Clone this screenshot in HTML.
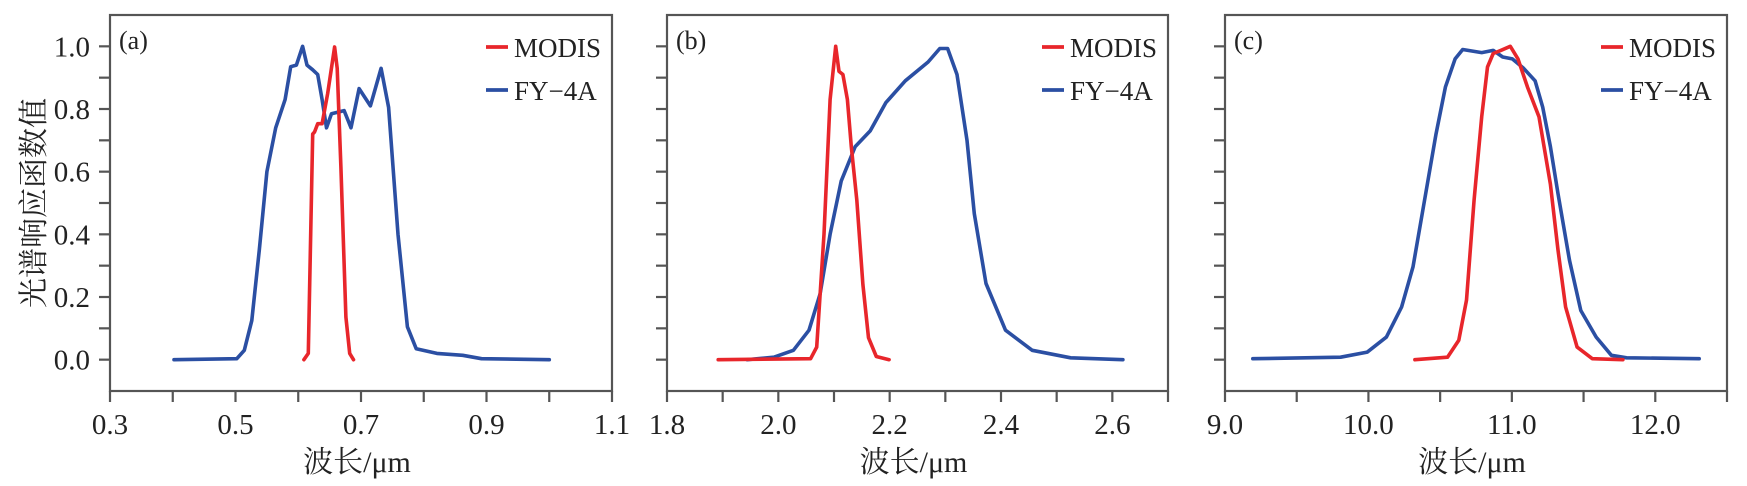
<!DOCTYPE html>
<html><head><meta charset="utf-8">
<style>
html,body{margin:0;padding:0;background:#fff;}
svg{display:block;}
text{font-family:"Liberation Serif","Noto Serif CJK SC",serif;fill:#222;}
</style></head>
<body>
<svg id="chart" width="1747" height="486" viewBox="0 0 1747 486" xmlns="http://www.w3.org/2000/svg">
<text transform="translate(44,203) rotate(-90)" text-anchor="middle" font-size="30" style="font-family:'Noto Serif CJK SC',serif">光谱响应函数值</text>
</svg>
<script>
// Panel (a) data
const aBlueX=[0.402,0.502,0.514,0.526,0.538,0.55,0.564,0.579,0.588,0.597,0.607,0.614,0.623,0.631,0.638,0.645,0.653,0.673,0.684,0.697,0.715,0.732,0.744,0.759,0.774,0.788,0.821,0.862,0.892,1.0];
const aBlueY=[0,0.003,0.03,0.125,0.35,0.6,0.74,0.83,0.935,0.94,1.0,0.94,0.925,0.91,0.83,0.74,0.785,0.795,0.74,0.865,0.81,0.93,0.805,0.4,0.105,0.035,0.02,0.014,0.003,0];
const aRedX=[0.609,0.616,0.623,0.626,0.631,0.638,0.647,0.658,0.662,0.668,0.676,0.682,0.688];
const aRedY=[0,0.02,0.72,0.727,0.753,0.753,0.85,0.998,0.93,0.615,0.136,0.02,0];
// Panel (b) data
const bRedX=[1.892,2.058,2.069,2.082,2.093,2.103,2.109,2.116,2.124,2.131,2.141,2.152,2.162,2.176,2.199];
const bRedY=[0,0.003,0.04,0.4,0.83,1.0,0.92,0.91,0.83,0.68,0.51,0.24,0.07,0.01,0];
const bBlueX=[1.944,1.992,2.027,2.055,2.075,2.093,2.113,2.138,2.165,2.193,2.228,2.269,2.29,2.304,2.321,2.339,2.352,2.373,2.408,2.456,2.525,2.619];
const bBlueY=[0,0.008,0.03,0.094,0.21,0.4,0.57,0.68,0.73,0.82,0.89,0.95,0.993,0.993,0.91,0.7,0.466,0.243,0.094,0.03,0.006,0];
// Panel (c) data
const cBlueX=[9.194,9.806,9.992,10.125,10.231,10.311,10.391,10.471,10.537,10.604,10.657,10.79,10.87,10.936,11.003,11.082,11.162,11.215,11.269,11.322,11.402,11.481,11.588,11.694,11.8,12.306];
const cBlueY=[0.003,0.008,0.024,0.072,0.168,0.296,0.508,0.72,0.87,0.96,0.99,0.98,0.987,0.966,0.96,0.93,0.89,0.806,0.68,0.53,0.317,0.157,0.072,0.014,0.006,0.003];
const cRedX=[10.324,10.551,10.63,10.684,10.737,10.79,10.83,10.87,10.923,10.989,11.043,11.109,11.189,11.269,11.322,11.375,11.455,11.561,11.774];
const cRedY=[0,0.008,0.062,0.19,0.51,0.775,0.934,0.977,0.987,1.0,0.96,0.87,0.775,0.56,0.35,0.168,0.04,0.003,0];
// Tick labels
const aXLabels=["0.3","0.5","0.7","0.9","1.1"];
const bXLabels=["1.8","2.0","2.2","2.4","2.6"];
const cXLabels=["9.0","10.0","11.0","12.0"];
const yLabels=["0.0","0.2","0.4","0.6","0.8","1.0"];
const legendNames=["MODIS","FY\u22124A"];

const NS="http://www.w3.org/2000/svg";
const svg=document.getElementById('chart');
const TOP=15,BOT=391,YMIN=-0.1,YMAX=1.1;
const RED="#e8262b",BLUE="#2b4fa3";
function sy(v){return BOT-(v-YMIN)/(YMAX-YMIN)*(BOT-TOP);}
function mk(tag,attrs,parent){const e=document.createElementNS(NS,tag);for(const k in attrs)e.setAttribute(k,attrs[k]);(parent||svg).appendChild(e);return e;}

const panels=[
 {id:'a',L:110,R:612,xmin:0.3,xmax:1.1,step:0.1,labs:aXLabels,labStep:0.2,series:[[aBlueX,aBlueY,BLUE,'fy4a'],[aRedX,aRedY,RED,'modis']],ylab:true},
 {id:'b',L:667,R:1168,xmin:1.8,xmax:2.7,step:0.1,labs:bXLabels,labStep:0.2,series:[[bBlueX,bBlueY,BLUE,'fy4a'],[bRedX,bRedY,RED,'modis']],ylab:false},
 {id:'c',L:1225,R:1727,xmin:9.0,xmax:12.5,step:0.5,labs:cXLabels,labStep:1.0,series:[[cBlueX,cBlueY,BLUE,'fy4a'],[cRedX,cRedY,RED,'modis']],ylab:false}
];
panels.forEach(p=>{
  const sx=v=>p.L+(v-p.xmin)/(p.xmax-p.xmin)*(p.R-p.L);
  const g=mk('g',{});
  
  
  p.series.forEach(s=>{
    let d='';s[0].forEach((x,i)=>{d+=(i?'L':'M')+sx(x).toFixed(1)+','+sy(s[1][i]).toFixed(1);});
    const path=mk('path',{d:d,fill:'none',stroke:s[2],'stroke-width':3.6,'stroke-linejoin':'round','stroke-linecap':'round'},g);
    
    
  });
  const fr=mk('rect',{x:p.L,y:TOP,width:p.R-p.L,height:BOT-TOP,fill:'none',stroke:'#555','stroke-width':2.2},g);
  
  
  const n=Math.round((p.xmax-p.xmin)/p.step);
  for(let i=0;i<=n;i++){
    const x=sx(p.xmin+i*p.step);
    const t=mk('line',{x1:x,x2:x,y1:BOT,y2:BOT+11,stroke:'#555','stroke-width':2.2},g);
    
    
  }
  p.labs.forEach((lab,i)=>{
    const t=mk('text',{x:sx(p.xmin+i*p.labStep),y:434,'text-anchor':'middle','font-size':29},g);
    t.textContent=lab;
    
    
  });
  for(let i=0;i<=10;i++){
    const y=sy(i*0.1);
    const t=mk('line',{x1:p.L-11,x2:p.L,y1:y,y2:y,stroke:'#555','stroke-width':2.2},g);
    
    
  }
  if(p.ylab){
    yLabels.forEach((lab,i)=>{
      const t=mk('text',{x:90,y:sy(i*0.2)+10,'text-anchor':'end','font-size':29},g);
      t.textContent=lab;
      
      
    });
  }
  const xt=mk('text',{x:(p.L+p.R)/2-4,y:472,'text-anchor':'middle','font-size':30},g);
  xt.textContent='波长/μm';
  
  
  const pl=mk('text',{x:p.L+9,y:49,'font-size':26},g);
  pl.textContent='('+p.id+')';
  
  
  const lx=p.R-126;
  [[RED,47],[BLUE,90]].forEach((c,i)=>{
    const lg=mk('g',{},g);
    
    
    mk('line',{x1:lx,x2:lx+22,y1:c[1],y2:c[1],stroke:c[0],'stroke-width':3.8},lg);
    const t=mk('text',{x:lx+28,y:c[1]+10,'font-size':27},lg);
    t.textContent=legendNames[i];
  });
});
</script>
</body></html>
